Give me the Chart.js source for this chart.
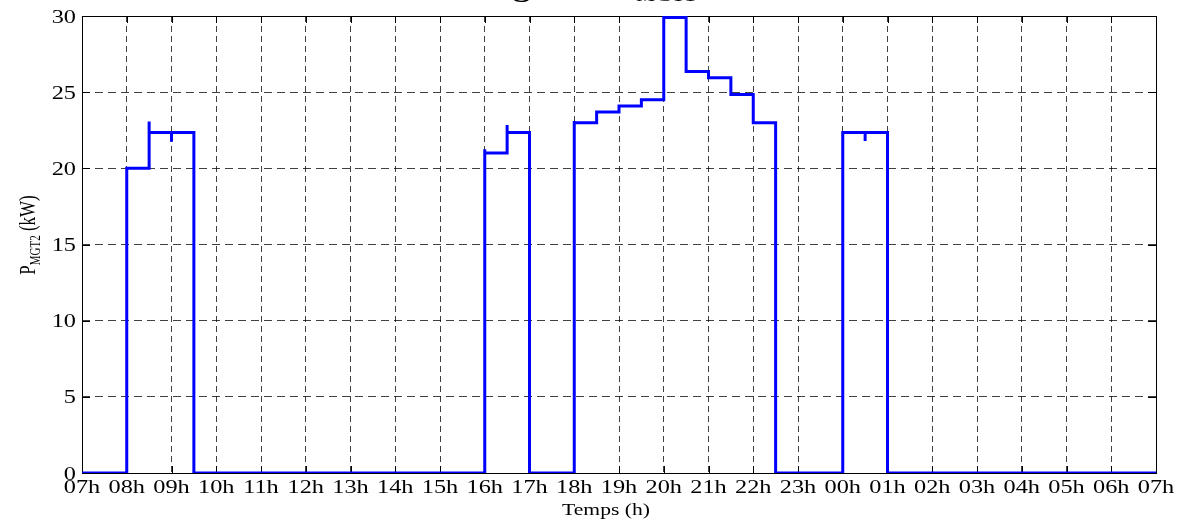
<!DOCTYPE html>
<html>
<head>
<meta charset="utf-8">
<script src="https://cdn.jsdelivr.net/npm/chart.js@4/dist/chart.umd.min.js"></script>
<style>
  html, body { margin: 0; padding: 0; background: #fff; }
  #wrap { width: 1184px; height: 524px; }
</style>
</head>
<body>
<div id="wrap"><canvas id="chart" width="1184" height="524"></canvas></div>
<script>
// Breakpoints of the step curve: hours after 07h and power in kW
const timeH = [0, 1, 1, 1.5, 1.5, 1.5, 2, 2, 2, 2.5, 2.5,
    9, 9, 9, 9.5, 9.5, 9.5, 10, 10,
    11, 11, 11, 11.5, 11.5, 12, 12, 12.5, 12.5, 13, 13, 13.5, 13.5, 14, 14, 14.5, 14.5, 15, 15, 15.5, 15.5,
    17, 17, 17.5, 17.5, 17.5, 18, 18, 24];
const powerKW = [0, 0, 20.0, 20.0, 23.07, 22.35, 22.35, 21.75, 22.35, 22.35, 0,
    0, 21.25, 21.0, 21.0, 22.85, 22.35, 22.35, 0,
    0, 23.1, 23.0, 23.0, 23.7, 23.7, 24.1, 24.1, 24.5, 24.5, 29.9, 29.9, 26.35, 26.35, 25.95, 25.95, 24.85, 24.85, 23.0, 23.0, 0,
    0, 22.35, 22.35, 21.8, 22.35, 22.35, 0, 0];

const xTickLabels = ['07h', '08h', '09h', '10h', '11h', '12h', '13h', '14h', '15h', '16h', '17h', '18h',
    '19h', '20h', '21h', '22h', '23h', '00h', '01h', '02h', '03h', '04h', '05h', '06h', '07h'];
const yTickValues = [0, 5, 10, 15, 20, 25, 30];

const SX = 1.35; // the original figure is stretched horizontally
const SERIF = '"Liberation Serif", "Times New Roman", serif';

function stretchText(ctx, text, x, y, align) {
    ctx.save();
    ctx.translate(x, y);
    ctx.scale(SX, 1);
    ctx.textAlign = align;
    ctx.textBaseline = 'alphabetic';
    ctx.fillText(text, 0, 0);
    ctx.restore();
}

// Draws the axes box, inward ticks and all the text like the matlab figure
const matlabAxes = {
    id: 'matlabAxes',
    beforeDatasetsDraw(chart) {
        const ctx = chart.ctx;
        const a = chart.chartArea;
        const xs = chart.scales.x, ys = chart.scales.y;
        ctx.save();
        ctx.strokeStyle = '#000';
        ctx.lineWidth = 1;
        ctx.strokeRect(Math.round(a.left) + 0.5, Math.round(a.top) + 0.5,
            Math.round(a.right - a.left), Math.round(a.bottom - a.top));
        ctx.beginPath();
        xTickLabels.forEach((lab, i) => {
            const px = Math.round(xs.getPixelForValue(i)) + 0.5;
            ctx.moveTo(px, a.bottom); ctx.lineTo(px, a.bottom - 7);
            ctx.moveTo(px, a.top); ctx.lineTo(px, a.top + 7);
        });
        yTickValues.forEach(v => {
            const py = Math.round(ys.getPixelForValue(v)) + 0.5;
            ctx.moveTo(a.left, py); ctx.lineTo(a.left + 8, py);
            ctx.moveTo(a.right, py); ctx.lineTo(a.right - 8, py);
        });
        ctx.stroke();
        ctx.restore();
    },
    afterDraw(chart) {
        const ctx = chart.ctx;
        const a = chart.chartArea;
        const xs = chart.scales.x, ys = chart.scales.y;
        ctx.save();
        ctx.fillStyle = '#000';
        ctx.font = '18px ' + SERIF;
        xTickLabels.forEach((lab, i) => {
            stretchText(ctx, lab, xs.getPixelForValue(i), 493, 'center');
        });
        yTickValues.forEach(v => {
            stretchText(ctx, String(v), a.left - 6, ys.getPixelForValue(v) + 6.5, 'right');
        });

        // x axis title
        ctx.font = '16px ' + SERIF;
        stretchText(ctx, 'Temps (h)', (a.left + a.right) / 2 - 13, 515, 'center');

        // y axis title with subscript, rotated
        ctx.save();
        ctx.translate(35, 235);
        ctx.scale(SX, 1);
        ctx.rotate(-Math.PI / 2);
        ctx.textBaseline = 'alphabetic';
        ctx.font = '17px ' + SERIF;
        const wP = ctx.measureText('P').width;
        ctx.font = '11px ' + SERIF;
        const wSub = ctx.measureText('MGT2').width;
        ctx.font = '17px ' + SERIF;
        const wRest = ctx.measureText(' (kW)').width;
        let x0 = -(wP + wSub + wRest) / 2;
        ctx.textAlign = 'left';
        ctx.fillText('P', x0, 0);
        ctx.font = '11px ' + SERIF;
        ctx.fillText('MGT2', x0 + wP, 4);
        ctx.font = '17px ' + SERIF;
        ctx.fillText(' (kW)', x0 + wP + wSub, 0);
        ctx.restore();

        // title, almost fully cut by the top of the figure:
        // only the descender of the g and the foot of the subscript show
        ctx.save();
        ctx.textBaseline = 'alphabetic';
        ctx.textAlign = 'left';
        ctx.font = 'bold 26px ' + SERIF;
        const head = 'Puissance ';
        const wHead = ctx.measureText(head).width * SX;
        const gDesc = ctx.measureText('g').actualBoundingBoxDescent || 5.5;
        ctx.translate(513 - wHead, 2 - gDesc);
        ctx.scale(SX, 1);
        ctx.fillText('Puissance générée de la', 0, 0);
        ctx.restore();
        ctx.save();
        ctx.textBaseline = 'alphabetic';
        ctx.textAlign = 'left';
        ctx.font = 'italic 17px ' + SERIF;
        ctx.translate(637, 0.5);
        ctx.scale(SX, 1);
        ctx.fillText('MGT1', 0, 0);
        ctx.restore();
        ctx.restore();
    }
};

new Chart(document.getElementById('chart'), {
    type: 'line',
    data: {
        datasets: [{
            data: timeH.map((t, i) => ({ x: t, y: powerKW[i] })),
            borderColor: '#0000ff',
            borderWidth: 3,
            pointRadius: 0,
            fill: false,
            tension: 0,
            borderJoinStyle: 'miter'
        }]
    },
    options: {
        responsive: false,
        animation: false,
        devicePixelRatio: 1,
        layout: { padding: { left: 82, right: 28, top: 16, bottom: 51 } },
        plugins: {
            legend: { display: false },
            tooltip: { enabled: false },
            title: { display: false }
        },
        scales: {
            x: {
                type: 'linear',
                min: 0,
                max: 24,
                ticks: { display: false, stepSize: 1 },
                grid: { color: 'rgba(0,0,0,0.75)', lineWidth: 1, drawTicks: false },
                border: { display: false, dash: [6, 4] }
            },
            y: {
                min: 0,
                max: 30,
                ticks: { display: false, stepSize: 5 },
                grid: { color: 'rgba(0,0,0,0.75)', lineWidth: 1, drawTicks: false },
                border: { display: false, dash: [8, 5] }
            }
        }
    },
    plugins: [matlabAxes]
});
</script>
</body>
</html>
